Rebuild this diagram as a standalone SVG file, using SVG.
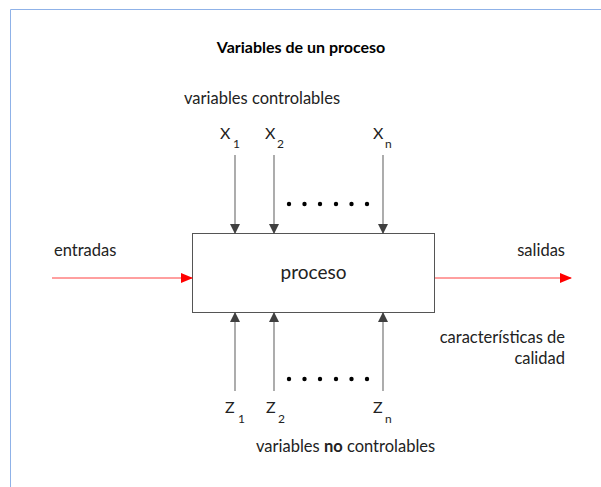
<svg xmlns="http://www.w3.org/2000/svg" width="601" height="487" viewBox="0 0 601 487">
<style>
text{font-family:Lato,"Open Sans","Liberation Sans",sans-serif;fill:#222}
.lbl{font-size:16.5px}
.var{font-size:16px}
.sub{font-size:12px}
.g{stroke:#808080;stroke-width:1.3;fill:none}
.r{stroke:#ff4040;stroke-width:1;fill:none}
</style>
<defs>
<marker id="ag" markerWidth="10" markerHeight="10" refX="9" refY="5" orient="auto" markerUnits="userSpaceOnUse"><path d="M0,0 L10,5 L0,10 z" fill="#404040"/></marker>
<marker id="ar" markerWidth="12" markerHeight="10" refX="11" refY="5" orient="auto" markerUnits="userSpaceOnUse"><path d="M0,0 L12,5 L0,10 z" fill="#ff0000"/></marker>
</defs>
<rect width="601" height="487" fill="#fff"/>
<path d="M10.5,487 V9.5 H601" fill="none" stroke="#8fb2e8" stroke-width="1"/>
<text x="301" y="53" text-anchor="middle" style="font-size:16px;font-weight:bold;fill:#000">Variables de un proceso</text>
<text class="lbl" x="184" y="104">variables controlables</text>
<g id="proceso">
<rect x="192.5" y="233.5" width="242" height="79" fill="#fff" stroke="#555" stroke-width="1"/>
<text x="313.5" y="279" text-anchor="middle" style="font-size:19px">proceso</text>
</g>
<g id="x1"><text class="var" x="220" y="139">X</text><text class="sub" x="233" y="148">1</text></g>
<g id="x2"><text class="var" x="265" y="139">X</text><text class="sub" x="277" y="148">2</text></g>
<g id="xn"><text class="var" x="373" y="139">X</text><text class="sub" x="385" y="148">n</text></g>
<g id="z1"><text class="var" x="225" y="413">Z</text><text class="sub" x="238" y="423">1</text></g>
<g id="z2"><text class="var" x="266" y="413">Z</text><text class="sub" x="278" y="423">2</text></g>
<g id="zn"><text class="var" x="373" y="413">Z</text><text class="sub" x="385" y="423">n</text></g>
<g id="entradas"><text class="lbl" x="54" y="256">entradas</text></g>
<g id="salidas"><text class="lbl" x="565" y="256" text-anchor="end">salidas</text></g>
<g id="caracteristicas"><text class="lbl" x="565" y="343" text-anchor="end">características de</text><text class="lbl" x="565" y="364" text-anchor="end">calidad</text></g>
<text class="lbl" x="256" y="452">variables <tspan style="font-weight:bold">no</tspan> controlables</text>
<g id="dots" fill="#000">
<circle cx="289" cy="204" r="2.2"/><circle cx="304.5" cy="204" r="2.2"/><circle cx="320" cy="204" r="2.2"/><circle cx="336" cy="204" r="2.2"/><circle cx="351.5" cy="204" r="2.2"/><circle cx="367" cy="204" r="2.2"/>
<circle cx="289" cy="379" r="2.2"/><circle cx="304.5" cy="379" r="2.2"/><circle cx="320" cy="379" r="2.2"/><circle cx="336" cy="379" r="2.2"/><circle cx="351.5" cy="379" r="2.2"/><circle cx="367" cy="379" r="2.2"/>
</g>
<g id="connectors">
<line class="g" x1="235" y1="155" x2="235" y2="233" marker-end="url(#ag)"/>
<line class="g" x1="274" y1="155" x2="274" y2="233" marker-end="url(#ag)"/>
<line class="g" x1="383" y1="155" x2="383" y2="233" marker-end="url(#ag)"/>
<line class="g" x1="235" y1="391" x2="235" y2="313" marker-end="url(#ag)"/>
<line class="g" x1="274" y1="391" x2="274" y2="313" marker-end="url(#ag)"/>
<line class="g" x1="383" y1="391" x2="383" y2="313" marker-end="url(#ag)"/>
<line class="r" x1="52" y1="278" x2="192" y2="278" marker-end="url(#ar)"/>
<line class="r" x1="435" y1="278" x2="571" y2="278" marker-end="url(#ar)"/>
</g>
</svg>
